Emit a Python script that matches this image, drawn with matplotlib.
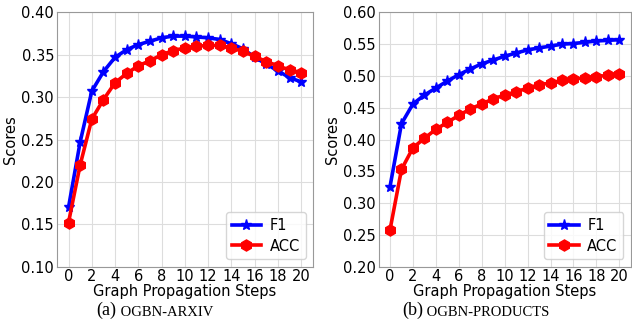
import matplotlib
matplotlib.use('Agg')
import matplotlib.pyplot as plt

steps = list(range(21))

# ogbn-arxiv
arxiv_f1 = [0.170, 0.247, 0.307, 0.330, 0.347, 0.356, 0.362, 0.366, 0.370, 0.372, 0.372,
            0.371, 0.370, 0.368, 0.363, 0.357, 0.347, 0.339, 0.331, 0.323, 0.318]
arxiv_acc = [0.152, 0.220, 0.274, 0.297, 0.317, 0.328, 0.337, 0.343, 0.350, 0.355, 0.358,
             0.360, 0.361, 0.361, 0.358, 0.354, 0.348, 0.342, 0.337, 0.332, 0.329]

# ogbn-products
products_f1 = [0.326, 0.425, 0.456, 0.470, 0.481, 0.492, 0.502, 0.511, 0.519, 0.525, 0.531,
               0.536, 0.541, 0.544, 0.547, 0.550, 0.551, 0.553, 0.555, 0.556, 0.557]
products_acc = [0.258, 0.353, 0.387, 0.402, 0.416, 0.427, 0.438, 0.448, 0.456, 0.464, 0.470,
                0.475, 0.481, 0.486, 0.489, 0.493, 0.495, 0.497, 0.499, 0.501, 0.503]

xticks = list(range(0, 21, 2))
arxiv_yticks = [0.10, 0.15, 0.20, 0.25, 0.30, 0.35, 0.40]
products_yticks = [0.20, 0.25, 0.30, 0.35, 0.40, 0.45, 0.50, 0.55, 0.60]

fs = 10.5
fig = plt.figure(figsize=(6.32, 3.26), dpi=100)
ax1 = fig.add_axes([0.090, 0.182, 0.405, 0.780])
ax2 = fig.add_axes([0.599, 0.182, 0.399, 0.780])


def draw(ax, f1, acc, yticks):
    ax.plot(steps, f1, color='blue', marker='*', markersize=8, linewidth=2.6, label='F1')
    ax.plot(steps, acc, color='red', marker='h', markersize=8, linewidth=2.6, label='ACC')
    ax.set_xlim(-1, 21)
    ax.set_ylim(yticks[0], yticks[-1])
    ax.set_xticks(xticks)
    ax.set_yticks(yticks)
    ax.set_yticklabels(['%.2f' % v for v in yticks])
    ax.grid(True, color='#dddddd', linewidth=0.8)
    ax.set_axisbelow(True)
    for s in ax.spines.values():
        s.set_color('#999999')
        s.set_linewidth(0.8)
    ax.tick_params(labelsize=fs, length=0, pad=2)
    ax.set_xlabel('Graph Propagation Steps', fontsize=fs, labelpad=0)
    ax.set_ylabel('Scores', fontsize=fs, labelpad=2)
    ax.legend(loc='lower right', fontsize=fs, handlelength=2.0, borderpad=0.4,
              labelspacing=0.4, handletextpad=0.6, fancybox=True)


draw(ax1, arxiv_f1, arxiv_acc, arxiv_yticks)
draw(ax2, products_f1, products_acc, products_yticks)

# captions in small caps style
for x0, tag, name in [(0.153, '(a)', 'OGBN-ARXIV'), (0.636, '(b)', 'OGBN-PRODUCTS')]:
    t = fig.text(x0, 0.035, tag, fontsize=13, family='Liberation Serif')
    fig.canvas.draw()
    plt.annotate(' ' + name, xy=(1, 0), xycoords=t, va='bottom', fontsize=10.5,
                 family='Liberation Serif')

fig.savefig('out.png', dpi=100)
